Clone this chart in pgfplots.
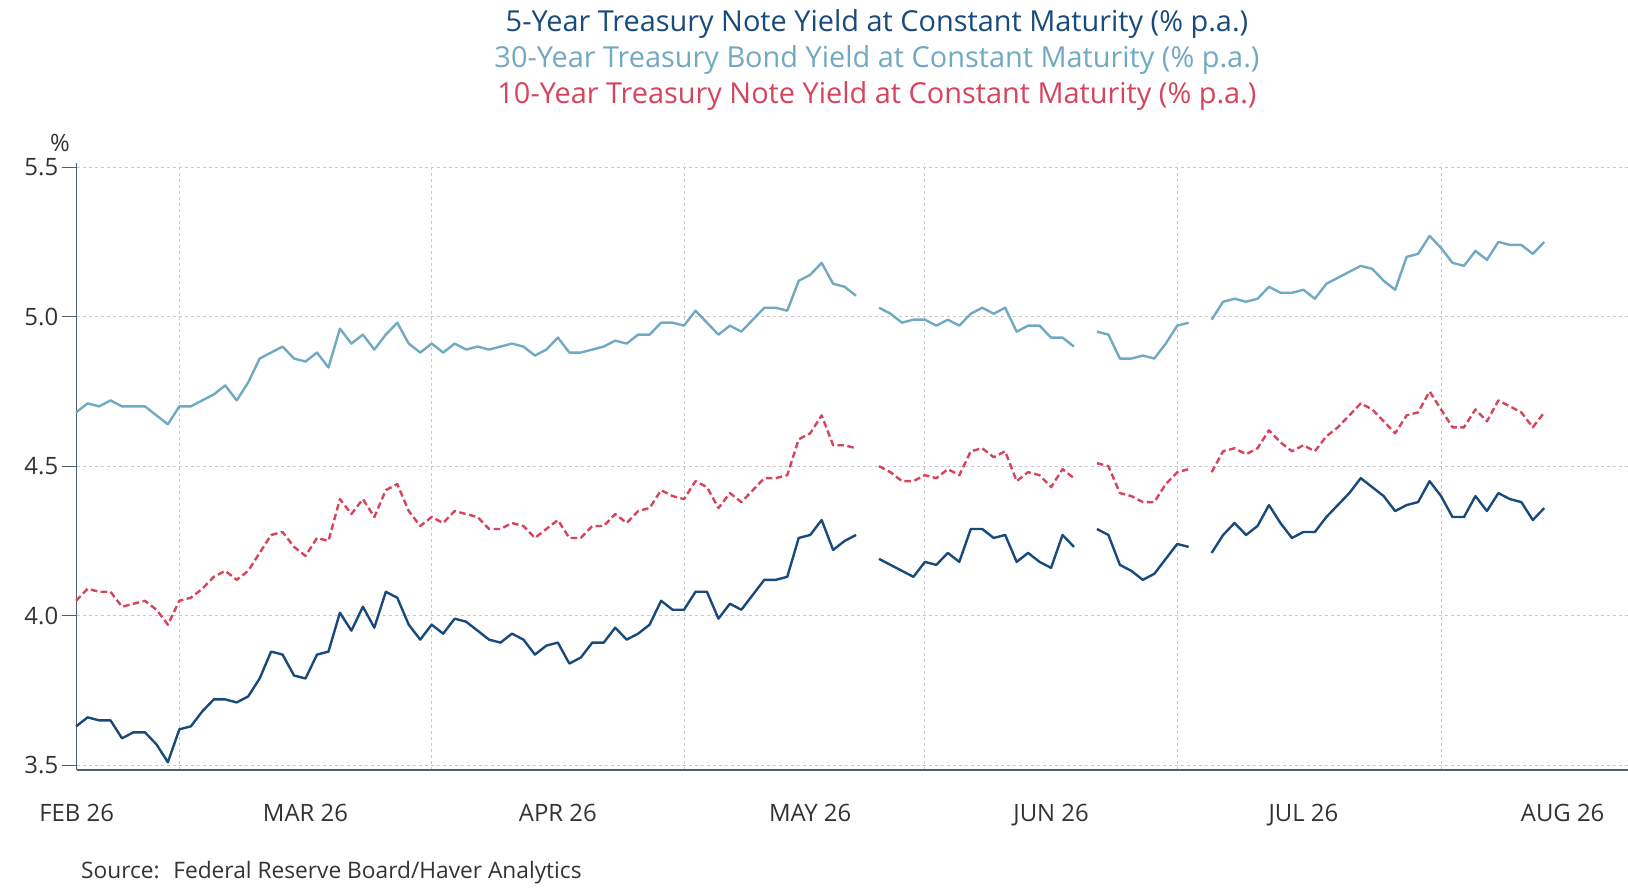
\documentclass[border=0pt]{standalone}
\usepackage{fontspec}
\setmainfont{Open Sans}
\usepackage{pgfplots}
\pgfplotsset{compat=1.18}
\usepackage{pgfplotstable}

\definecolor{cfive}{RGB}{24,74,124}
\definecolor{cthirty}{RGB}{112,169,194}
\definecolor{cten}{RGB}{215,67,92}
\definecolor{caxis}{RGB}{80,95,112}
\definecolor{clabel}{RGB}{51,51,51}
\definecolor{cgrid}{RGB}{200,200,200}

\pgfplotstableread{
idx five thirty ten
-9 3.63 4.68 4.05
-8 3.66 4.71 4.09
-7 3.65 4.70 4.08
-6 3.65 4.72 4.08
-5 3.59 4.70 4.03
-4 3.61 4.70 4.04
-3 3.61 4.70 4.05
-2 3.57 4.67 4.02
-1 3.51 4.64 3.97
0 3.62 4.70 4.05
1 3.63 4.70 4.06
2 3.68 4.72 4.09
3 3.72 4.74 4.13
4 3.72 4.77 4.15
5 3.71 4.72 4.12
6 3.73 4.78 4.15
7 3.79 4.86 4.21
8 3.88 4.88 4.27
9 3.87 4.90 4.28
10 3.80 4.86 4.23
11 3.79 4.85 4.20
12 3.87 4.88 4.26
13 3.88 4.83 4.25
14 4.01 4.96 4.39
15 3.95 4.91 4.34
16 4.03 4.94 4.39
17 3.96 4.89 4.33
18 4.08 4.94 4.42
19 4.06 4.98 4.44
20 3.97 4.91 4.35
21 3.92 4.88 4.30
22 3.97 4.91 4.33
23 3.94 4.88 4.31
24 3.99 4.91 4.35
25 3.98 4.89 4.34
26 3.95 4.90 4.33
27 3.92 4.89 4.29
28 3.91 4.90 4.29
29 3.94 4.91 4.31
30 3.92 4.90 4.30
31 3.87 4.87 4.26
32 3.90 4.89 4.29
33 3.91 4.93 4.32
34 3.84 4.88 4.26
35 3.86 4.88 4.26
36 3.91 4.89 4.30
37 3.91 4.90 4.30
38 3.96 4.92 4.34
39 3.92 4.91 4.31
40 3.94 4.94 4.35
41 3.97 4.94 4.36
42 4.05 4.98 4.42
43 4.02 4.98 4.40
44 4.02 4.97 4.39
45 4.08 5.02 4.45
46 4.08 4.98 4.43
47 3.99 4.94 4.36
48 4.04 4.97 4.41
49 4.02 4.95 4.38
50 4.07 4.99 4.42
51 4.12 5.03 4.46
52 4.12 5.03 4.46
53 4.13 5.02 4.47
54 4.26 5.12 4.59
55 4.27 5.14 4.61
56 4.32 5.18 4.67
57 4.22 5.11 4.57
58 4.25 5.10 4.57
59 4.27 5.07 4.56
60 nan nan nan
61 4.19 5.03 4.50
62 4.17 5.01 4.48
63 4.15 4.98 4.45
64 4.13 4.99 4.45
65 4.18 4.99 4.47
66 4.17 4.97 4.46
67 4.21 4.99 4.49
68 4.18 4.97 4.47
69 4.29 5.01 4.55
70 4.29 5.03 4.56
71 4.26 5.01 4.53
72 4.27 5.03 4.55
73 4.18 4.95 4.45
74 4.21 4.97 4.48
75 4.18 4.97 4.47
76 4.16 4.93 4.43
77 4.27 4.93 4.49
78 4.23 4.90 4.46
79 nan nan nan
80 4.29 4.95 4.51
81 4.27 4.94 4.50
82 4.17 4.86 4.41
83 4.15 4.86 4.40
84 4.12 4.87 4.38
85 4.14 4.86 4.38
86 4.19 4.91 4.44
87 4.24 4.97 4.48
88 4.23 4.98 4.49
89 nan nan nan
90 4.21 4.99 4.48
91 4.27 5.05 4.55
92 4.31 5.06 4.56
93 4.27 5.05 4.54
94 4.30 5.06 4.56
95 4.37 5.10 4.62
96 4.31 5.08 4.58
97 4.26 5.08 4.55
98 4.28 5.09 4.57
99 4.28 5.06 4.55
100 4.33 5.11 4.60
101 4.37 5.13 4.63
102 4.41 5.15 4.67
103 4.46 5.17 4.71
104 4.43 5.16 4.69
105 4.40 5.12 4.65
106 4.35 5.09 4.61
107 4.37 5.20 4.67
108 4.38 5.21 4.68
109 4.45 5.27 4.75
110 4.40 5.23 4.69
111 4.33 5.18 4.63
112 4.33 5.17 4.63
113 4.40 5.22 4.69
114 4.35 5.19 4.65
115 4.41 5.25 4.72
116 4.39 5.24 4.70
117 4.38 5.24 4.68
118 4.32 5.21 4.63
119 4.36 5.25 4.68
}\yields

\begin{document}
\begin{tikzpicture}
\path[use as bounding box] (0bp,0bp) rectangle (1628bp,888bp);
\begin{axis}[
  at={(76.7bp,118bp)}, anchor=south west,
  scale only axis, width=1551.3bp, height=606.7bp,
  xmin=-8.95, xmax=126.3, ymin=3.484, ymax=5.513,
  axis lines=left,
  axis line style={-, draw=caxis, line width=1.3bp},
  /pgf/number format/assume math mode=true,
  xtick={-8.95,11,33,55,76,98,120.6},
  xticklabels={FEB 26,MAR 26,APR 26,MAY 26,JUN 26,JUL 26,AUG 26},
  minor xtick={0,22,44,65,87,110},
  xtick style={draw=none},
  xminorgrids=true,
  ytick={3.5,4,4.5,5,5.5},
  ymajorgrids=true,
  ytick style={draw=caxis, line width=1.3bp},
  tick align=outside,
  major tick length=15bp,
  grid style={draw=cgrid, line width=0.9bp, dash pattern=on 3bp off 3bp},
  minor grid style={draw=cgrid, line width=0.9bp, dash pattern=on 3bp off 3bp},
  xticklabel style={font=\fontsize{24}{28}\selectfont, text=clabel, anchor=base, yshift=-37bp},
  yticklabel style={font=\fontsize{24}{28}\selectfont, text=clabel,
    /pgf/number format/fixed, /pgf/number format/fixed zerofill, /pgf/number format/precision=1},
  unbounded coords=jump,
  clip=false,
]
\addplot[draw=cfive, line width=2.4bp, line join=round] table[x=idx, y=five] {\yields};
\addplot[draw=cthirty, line width=2.4bp, line join=round] table[x=idx, y=thirty] {\yields};
\addplot[draw=cten, line width=2.4bp, line join=round, dash pattern=on 6.5bp off 3.5bp] table[x=idx, y=ten] {\yields};
\end{axis}
\node[text=cfive, font=\fontsize{29}{33}\selectfont] at (877bp,864bp) {5-Year Treasury Note Yield at Constant Maturity (\% p.a.)};
\node[text=cthirty, font=\fontsize{29}{33}\selectfont] at (877bp,828bp) {30-Year Treasury Bond Yield at Constant Maturity (\% p.a.)};
\node[text=cten, font=\fontsize{29}{33}\selectfont] at (877bp,792bp) {10-Year Treasury Note Yield at Constant Maturity (\% p.a.)};
\node[text=clabel, font=\fontsize{24}{28}\selectfont] at (60bp,745bp) {\%};
\node[anchor=west, inner sep=0pt, text=clabel, font=\fontsize{22.8}{26}\selectfont] at (81bp,15bp) {Source:\hspace{0.6em}Federal Reserve Board/Haver Analytics};
\end{tikzpicture}
\end{document}
